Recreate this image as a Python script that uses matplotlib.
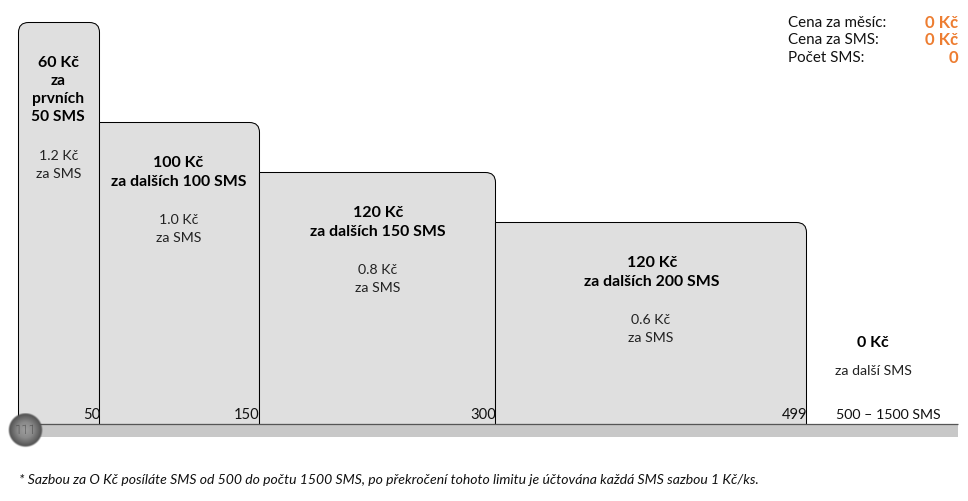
import numpy as np
import matplotlib
matplotlib.use("Agg")
import matplotlib.pyplot as plt
from matplotlib.path import Path
from matplotlib.patches import PathPatch, Rectangle
from matplotlib.transforms import IdentityTransform

plt.rcParams['font.family'] = ['Lato', 'DejaVu Sans']

# data
sms_limits = [0, 50, 150, 300, 499]
rates = [1.2, 1.0, 0.8, 0.6]
prices = ["60 Kč", "100 Kč", "120 Kč", "120 Kč"]
bar_titles = ["za\nprvních\n50 SMS", "za dalších 100 SMS", "za dalších 150 SMS", "za dalších 200 SMS"]
rate_labels = ["1.2 Kč\nza SMS", "1.0 Kč\nza SMS", "0.8 Kč\nza SMS", "0.6 Kč\nza SMS"]
limit_labels = ["50", "150", "300", "499"]
summary_labels = ["Cena za měsíc:", "Cena za SMS:", "Počet SMS:"]
summary_values = ["0 Kč", "0 Kč", "0"]
footnote = ("* Sazbou za O Kč posíláte SMS od 500 do počtu 1500 SMS, po překročení tohoto limitu "
            "je účtována každá SMS sazbou 1 Kč/ks.")

W, H = 968, 501
fig = plt.figure(figsize=(W / 100, H / 100), dpi=100, facecolor="white")

# the reference's axes are piecewise: calibrate them to the picture
x_sms = np.array([0, 50, 150, 300, 499, 1500], float)
x_px = np.array([18, 99, 259, 495, 806, 958], float)
y_rate = np.array([0, 0.6, 0.8, 1.0, 1.2], float)
y_px = np.array([0, 202, 252, 302, 402], float)

ax = fig.add_axes([0, 0, 1, 1])
ax.set_xscale('function', functions=(
    lambda v: np.interp(v, x_sms, x_px), lambda v: np.interp(v, x_px, x_sms)))
ax.set_yscale('function', functions=(
    lambda v: np.interp(v, y_rate, y_px), lambda v: np.interp(v, y_px, y_rate)))
ax.set_xlim(0, 1500)
ax.set_ylim(0, 1.2)
ax.set_position([18.5 / W, (H - 424.5) / H, (958 - 18) / W, 402 / H])
ax.axis("off")

edges = np.array(sms_limits, float)
bars = ax.bar(edges[:-1], rates, width=np.diff(edges), align="edge")
fig.canvas.draw()

px = fig.add_axes([0, 0, 1, 1], zorder=3)
px.set_xlim(0, W)
px.set_ylim(H, 0)
px.axis("off")
px.patch.set_alpha(0)

R = 10
for i, b in enumerate(bars):
    bb = b.get_window_extent()
    x0, x1, y0, y1 = bb.x0, bb.x1, bb.y0, bb.y1
    if i == 0:
        verts = [(x0, y0), (x0, y1 - R), (x0, y1), (x0 + R, y1), (x1 - R, y1), (x1, y1),
                 (x1, y1 - R), (x1, y0), (x0, y0)]
        codes = [Path.MOVETO, Path.LINETO, Path.CURVE3, Path.CURVE3, Path.LINETO,
                 Path.CURVE3, Path.CURVE3, Path.LINETO, Path.CLOSEPOLY]
    else:
        verts = [(x0, y0), (x0, y1), (x1 - R, y1), (x1, y1), (x1, y1 - R), (x1, y0), (x0, y0)]
        codes = [Path.MOVETO, Path.LINETO, Path.LINETO, Path.CURVE3, Path.CURVE3,
                 Path.LINETO, Path.CLOSEPOLY]
    fig.add_artist(PathPatch(Path(verts, codes), transform=IdentityTransform(),
                             facecolor="#dfdfdf", edgecolor="#000000", linewidth=0.75, zorder=1))
    b.set_visible(False)

# baseline band
px.add_patch(Rectangle((18, 424), 940, 13, facecolor="#c8c8c8", edgecolor="none", zorder=1))
px.plot([18, 958], [424, 424], color="#555555", lw=0.9, zorder=2, solid_capstyle="butt")

# ball: soft-edged radial shading
n = 200
gx, gy = np.meshgrid(np.linspace(8, 43, n), np.linspace(413.5, 448.5, n))
d = np.hypot(gx - 25.5, gy - 430.5) / 17.5
shade = np.interp(d, [0, 0.45, 0.8, 1.0], [0.62, 0.54, 0.38, 0.28])
alpha = np.clip((1.0 - d) / 0.1, 0, 1)
rgba = np.dstack([shade, shade, shade, alpha])
px.imshow(rgba, extent=(8, 43, 448.5, 413.5), aspect="auto", zorder=3, interpolation="bilinear")
px.set_xlim(0, W)
px.set_ylim(H, 0)
px.text(25.5, 430.5, "111", ha="center", va="center", fontsize=9.5, family="Roboto",
        fontweight="light", color="#222222", zorder=4)

fs = 11.5
fr = 10.2
# column texts
title_cx = [58, 178.5, 378, 652]
price_y = [63, 163, 213, 263]
title_y = [182, 232, 282]
rate_cx = [59, 178.5, 378, 651]
rate_y = [165, 229, 279, 329]
for i in range(4):
    px.text(title_cx[i], price_y[i], prices[i], ha="center", va="center", fontsize=fs, fontweight="bold", color="#000000")
    if i == 0:
        for j, line in enumerate(bar_titles[i].split("\n")):
            px.text(title_cx[i], 81 + j * 18, line, ha="center", va="center", fontsize=fs - .3, fontweight="bold", color="#000000")
    else:
        px.text(title_cx[i], title_y[i - 1], bar_titles[i], ha="center", va="center", fontsize=fs - .1, fontweight="bold", color="#000000")
    for j, line in enumerate(rate_labels[i].split("\n")):
        px.text(rate_cx[i], rate_y[i] - 9 + j * 18, line, ha="center", va="center", fontsize=fr, color="#222222")
    px.text(x_px[i + 1] + 1, 415, limit_labels[i], ha="right", va="center", fontsize=fr + .4, color="#111111")

# free band
px.text(873, 343, "0 Kč", ha="center", va="center", fontsize=fs, fontweight="bold", color="#000000")
px.text(873, 371, "za další SMS", ha="center", va="center", fontsize=fr, color="#222222")
px.text(888, 415, "500 – 1500 SMS", ha="center", va="center", fontsize=fr, color="#111111")

# summary
for j, (l, v) in enumerate(zip(summary_labels, summary_values)):
    y = 22.5 + j * 17.5
    px.text(788, y, l, ha="left", va="center", fontsize=10.9, color="#111111")
    px.text(958, y, v, ha="right", va="center", fontsize=12, fontweight="bold", color="#ed7d31")

px.text(19, 480, footnote, ha="left", va="center", fontsize=10.05, style="italic", color="#111111")

fig.savefig("out.png", dpi=100)
